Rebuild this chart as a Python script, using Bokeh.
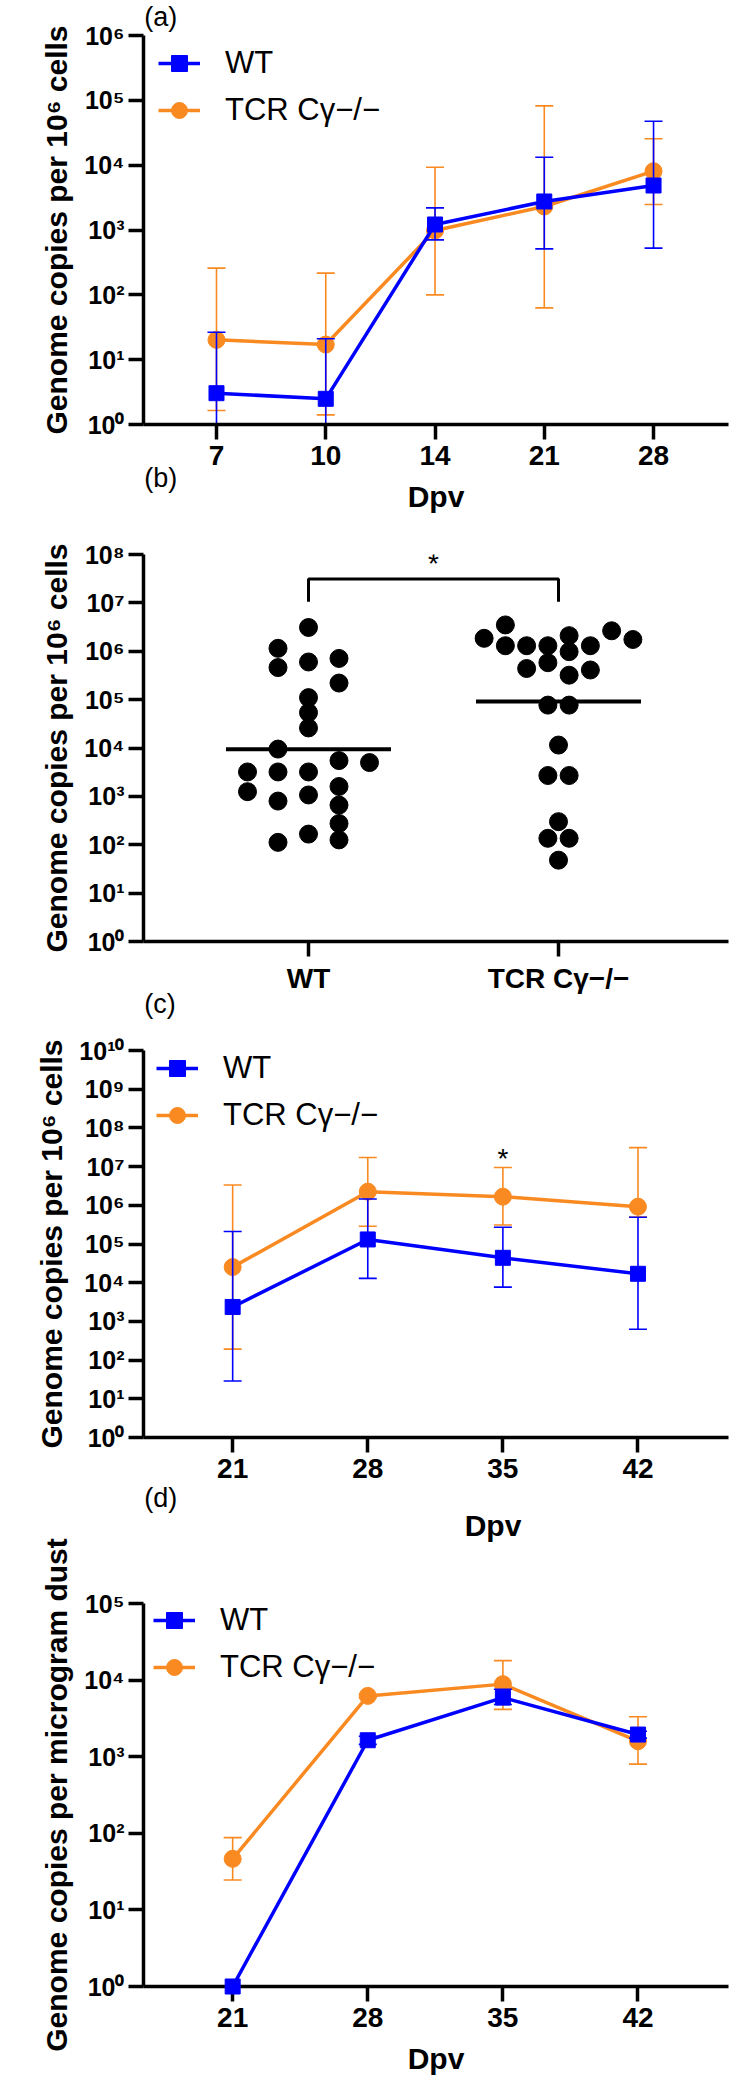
from bokeh.plotting import figure
from bokeh.models import (FixedTicker, CustomJSTickFormatter, Legend, LegendItem, Range1d)
from bokeh.layouts import column
from bokeh.embed import file_html
from bokeh.resources import INLINE
from bokeh.core.properties import value

# ---------------- data ----------------
# (a) genome copies per 10^6 cells, days post vaccination 7..28
days_a = ["7", "10", "14", "21", "28"]
a_wt_mean = [3.04, 2.49, 1216, 2754, 4858]
a_wt_upper = [26.5, 21, 2198, 13280, 47700]
a_wt_lower = [1, 1, 705, 512, 525]
a_tcr_mean = [20.2, 17.1, 982, 2303, 8075]
a_tcr_upper = [258, 216, 9310, 82200, 25500]
a_tcr_lower = [1.64, 1.41, 100, 63, 2474]

# (b) individual animals
groups_b = ["WT", "TCR Cγ−/−"]
b_wt_values = [3.1e6, 1.15e6, 4.6e5, 6.0e5, 7.1e5, 2.2e5, 1.1e5, 5.4e4, 2.6e4, 9.5e3,
               5.5e3, 5.0e3, 3.2e3, 3.2e3, 3.2e3, 1.6e3, 1.25e3, 1.07e3, 800, 660,
               275, 166, 112, 126]
b_wt_slot = [0, -1, -1, 0, 1, 1, 0, 0, 0, -1,
             1, 2, -2, -1, 0, 1, -2, 0, -1, 1,
             1, 0, -1, 1]
b_tcr_values = [3.5e6, 1.85e6, 1.3e6, 1.3e6, 1.3e6, 2.1e6, 9.8e5, 1.3e6, 2.65e6, 1.75e6,
                4.4e5, 5.8e5, 3.2e5, 4.1e5, 7.7e4, 7.7e4, 1.15e4, 2.7e3, 2.7e3, 300,
                136, 136, 48]
b_tcr_slot = [-2.5, -3.5, -2.5, -1.5, -0.5, 0.5, 0.5, 1.5, 2.5, 3.5,
              -1.5, -0.5, 0.5, 1.5, -0.5, 0.5, 0, -0.5, 0.5, 0,
              -0.5, 0.5, 0]
b_center_values = [9.4e3, 9.1e4]
b_sig_low, b_sig_high, b_sig_text_level = 1.05e7, 3.1e7, 6.5e7
sig_text = "*"

# (c) genome copies per 10^6 cells, days 21..42
days_c = ["21", "28", "35", "42"]
c_wt_mean = [2362, 1.31e5, 4.4e4, 1.7e4]
c_wt_upper = [2.1e5, 1.46e6, 2.71e5, 4.9e5]
c_wt_lower = [28.8, 1.29e4, 7.7e3, 629]
c_tcr_mean = [2.53e4, 2.25e6, 1.67e6, 9.2e5]
c_tcr_upper = [3.34e6, 1.72e7, 9.5e6, 3.1e7]
c_tcr_lower = [192, 2.88e5, 3.1e5, 5.0e5]
c_sig_day = "35"
c_sig_level = 1.6e7

# (d) genome copies per microgram dust
days_d = ["21", "28", "35", "42"]
d_wt_mean = [1.0, 1640, 5915, 1947]
d_wt_upper = [1.0, 1850, 7600, 2150]
d_wt_lower = [1.0, 1450, 4800, 1750]
d_tcr_mean = [46.4, 6220, 8860, 1592]
d_tcr_upper = [87.7, 6550, 17960, 3326]
d_tcr_lower = [24.6, 5900, 4152, 801]

panel_letters = ["(a)", "(b)", "(c)", "(d)"]

# ---------------- style ----------------
BLUE = "#0000FF"
ORANGE = "#F98A22"
FONT = "Liberation Sans"
W = 729
H_TOTAL = 2093
LEFT = 143
RIGHT = 1
FW = W - LEFT - RIGHT
SUP = ["\u2070", "\u00b9", "\u00b2", "\u00b3", "\u2074", "\u2075", "\u2076", "\u2077", "\u2078", "\u2079"]


def make_fig(height, top, frame_h, x_range, y_exp, tick_labels, xlabel, ylabel):
    bottom = height - top - frame_h
    p = figure(width=W, height=height, x_range=x_range, y_range=(1, 10 ** y_exp),
               y_axis_type="log", output_backend="svg", toolbar_location=None,
               min_border_left=LEFT, min_border_right=RIGHT,
               min_border_top=top, min_border_bottom=bottom)
    p.outline_line_color = None
    p.grid.visible = False
    p.background_fill_color = "white"
    p.border_fill_alpha = 0
    n = len(tick_labels)
    xa = p.xaxis[0]
    xa.ticker = FixedTicker(ticks=list(range(1, n + 1)))
    xa.major_label_overrides = {i + 1: t for i, t in enumerate(tick_labels)}
    ya = p.yaxis[0]
    ya.ticker = FixedTicker(ticks=[10 ** k for k in range(0, y_exp + 1)], minor_ticks=[])
    ya.formatter = CustomJSTickFormatter(args=dict(sup=SUP), code="""
        const e = Math.round(Math.log10(tick));
        return '10' + String(e).split('').map(c => sup[+c]).join('');
    """)
    for ax in (xa, ya):
        ax.axis_line_width = 3.5
        ax.axis_line_color = "black"
        ax.major_tick_line_width = 3.5
        ax.major_tick_line_color = "black"
        ax.major_tick_out = 15
        ax.major_tick_in = 0
        ax.minor_tick_line_color = None
        ax.major_label_text_font = FONT
        ax.major_label_text_font_style = "bold"
        ax.major_label_text_color = "black"
        ax.axis_label_text_font = FONT
        ax.axis_label_text_font_style = "bold"
        ax.axis_label_text_font_size = "30px"
        ax.axis_label_text_color = "black"
    xa.major_label_text_font_size = "28px"
    xa.major_label_standoff = 6
    xa.axis_label_standoff = 12
    ya.major_label_text_font_size = "25px"
    ya.major_label_standoff = 4
    ya.axis_label_standoff = 8
    if xlabel:
        xa.axis_label = xlabel
    ya.axis_label = ylabel
    p._geom = dict(top=top, frame_h=frame_h)
    return p


def add_series(p, mean, lower, upper, color, marker, size, level="glyph"):
    xs = list(range(1, len(mean) + 1))
    p.segment(x0=xs, y0=lower, x1=xs, y1=upper, line_color=color, line_width=1.6)
    p.scatter(x=xs + xs, y=list(upper) + list(lower), marker="dash", size=18,
              line_color=color, line_width=1.6)
    ln = p.line(xs, mean, line_color=color, line_width=3.5)
    mk = p.scatter(xs, mean, marker=marker, size=size, fill_color=color,
                   line_color=color, level=level)
    return ln, mk


def add_legend(p, first_row_center, left_offset):
    row = 40
    spacing = 7
    legend_h = 2 * row + spacing
    top_offset = first_row_center - row / 2
    vy = p._geom["frame_h"] - top_offset - legend_h
    lg = Legend(items=p._legend_items, location=(left_offset, vy), orientation="vertical",
                border_line_color=None, background_fill_alpha=0, padding=0, margin=0,
                spacing=spacing, glyph_width=42, glyph_height=row, label_height=row,
                label_standoff=25, label_text_font=FONT, label_text_font_size="31px",
                label_text_color="black")
    p.add_layout(lg)


def line_panel(height, top, frame_h, x_range, y_exp, days, ylabel, xlabel, wt, tcr):
    p = make_fig(height, top, frame_h, x_range, y_exp, days, xlabel, ylabel)
    ol, om = add_series(p, *tcr, ORANGE, "circle", 17)
    bl, bm = add_series(p, *wt, BLUE, "square", 15, level="overlay")
    p._legend_items = [LegendItem(label="WT", renderers=[bl, bm]),
                       LegendItem(label="TCR Cγ−/−", renderers=[ol, om])]
    return p


YLAB = "Genome copies per 10\u2076 cells"

# ----- (a) -----
pa = line_panel(530, 35, 389, (0.332, 5.686), 6, days_a, YLAB, "Dpv",
                (a_wt_mean, a_wt_lower, a_wt_upper),
                (a_tcr_mean, a_tcr_lower, a_tcr_upper))
add_legend(pa, 27.5, 15)

# ----- (b) -----
pb = make_fig(488, 24, 387, (0.34, 2.68), 8, groups_b, None, YLAB)
wt_step, tcr_step = 0.122, 0.085
pb.scatter([1 + s * wt_step for s in b_wt_slot], b_wt_values, size=18,
           marker="circle", color="black")
pb.scatter([2 + s * tcr_step for s in b_tcr_slot], b_tcr_values, size=18,
           marker="circle", color="black")
pb.segment(x0=[g - 0.33 for g in (1, 2)], x1=[g + 0.33 for g in (1, 2)],
           y0=b_center_values, y1=b_center_values, line_color="black", line_width=4)
pb.line([1, 1, 2, 2], [b_sig_low, b_sig_high, b_sig_high, b_sig_low],
        line_color="black", line_width=3)
pb.text(x=[1.5], y=[b_sig_text_level], text=[sig_text], text_font=value(FONT),
        text_font_size="28px", text_align="center", text_baseline="middle",
        text_color="black")

# ----- (c) -----
pc = line_panel(494, 32, 387, (0.34, 4.67), 10, days_c, YLAB, None,
                (c_wt_mean, c_wt_lower, c_wt_upper),
                (c_tcr_mean, c_tcr_lower, c_tcr_upper))
add_legend(pc, 18, 13)
pc.text(x=[days_c.index(c_sig_day) + 1], y=[c_sig_level], text=[sig_text],
        text_font=value(FONT), text_font_size="28px", text_align="center",
        text_baseline="middle", text_color="black")

# ----- (d) -----
pd_ = line_panel(581, 91, 383, (0.34, 4.67), 5, days_d,
                 "Genome copies per microgram dust", "Dpv",
                 (d_wt_mean, d_wt_lower, d_wt_upper),
                 (d_tcr_mean, d_tcr_lower, d_tcr_upper))
add_legend(pd_, 17, 10)

# ----- transparent overlay for the panel letters and the (c) x-axis title -----
ov = figure(width=W, height=H_TOTAL, x_range=Range1d(0, W), y_range=Range1d(H_TOTAL, 0),
            output_backend="svg", toolbar_location=None, min_border=0,
            x_axis_location=None, y_axis_location=None, margin=(-H_TOTAL, 0, 0, 0))
ov.outline_line_color = None
ov.grid.visible = False
ov.background_fill_alpha = 0
ov.border_fill_alpha = 0
letter_y = [16, 477, 1003, 1497]
ov.text(x=[1] * 4, y=letter_y, text=panel_letters, text_font=value(FONT),
        text_font_size="27px", text_align="left", text_baseline="middle",
        text_color="black")
ov.text(x=[LEFT + FW / 2], y=[1525], text=["Dpv"], text_font=value(FONT),
        text_font_size="30px", text_font_style="bold", text_align="center",
        text_baseline="middle", text_color="black")

layout = column(pa, pb, pc, pd_, ov, spacing=0)
open("out.html", "w").write(file_html(layout, INLINE))
